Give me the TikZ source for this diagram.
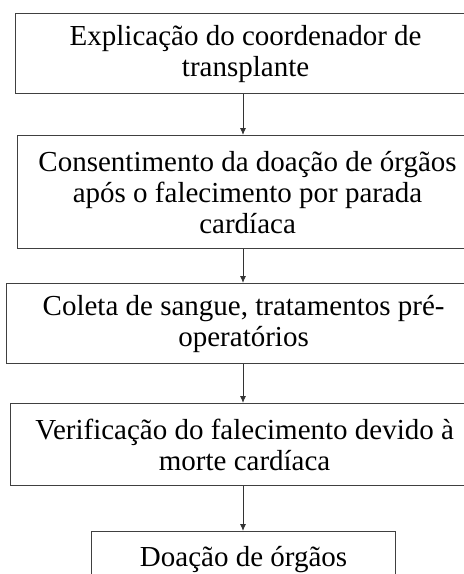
\documentclass[tikz,border=0pt]{standalone}
\usepackage{fontspec}
\setmainfont{Liberation Serif}
\usetikzlibrary{arrows.meta}

\begin{document}
\begin{tikzpicture}[x = 1pt, y = -1pt, >={Latex[length = 7pt, width = 6pt]},
    stage/.style = {draw = black!75, line width = 1.2pt, anchor = north west, align = center, inner sep = 0pt, font = \fontsize{29}{31}\selectfont},
    flow/.style = {draw = black!80, line width = 0.9pt}]
      \useasboundingbox (0,0) rectangle (464,574);
      \coordinate (col) at (243,0);
      \node[stage, minimum width = 460pt, minimum height = 80pt]  (s1) at (15,13)  {Explicação do coordenador de\\ transplante};
      \node[stage, minimum width = 460pt, minimum height = 113pt] (s2) at (17,135) {Consentimento da doação de órgãos\\ após o falecimento por parada\\ cardíaca};
      \node[stage, minimum width = 474pt, minimum height = 80pt]  (s3) at (6,283)  {Coleta de sangue, tratamentos pré-\\ operatórios};
      \node[stage, minimum width = 468pt, minimum height = 82pt]  (s4) at (10,403) {Verificação do falecimento devido à\\ morte cardíaca};
      \node[stage, minimum width = 304pt, minimum height = 56pt]  (s5) at (91,531) {Doação de órgãos};
      \draw[->, flow] (s1.south -| col) -- (s2.north -| col);
      \draw[->, flow] (s2.south -| col) -- (s3.north -| col);
      \draw[->, flow] (s3.south -| col) -- (s4.north -| col);
      \draw[->, flow] (s4.south -| col) -- (s5.north -| col);
\end{tikzpicture}
\end{document}
